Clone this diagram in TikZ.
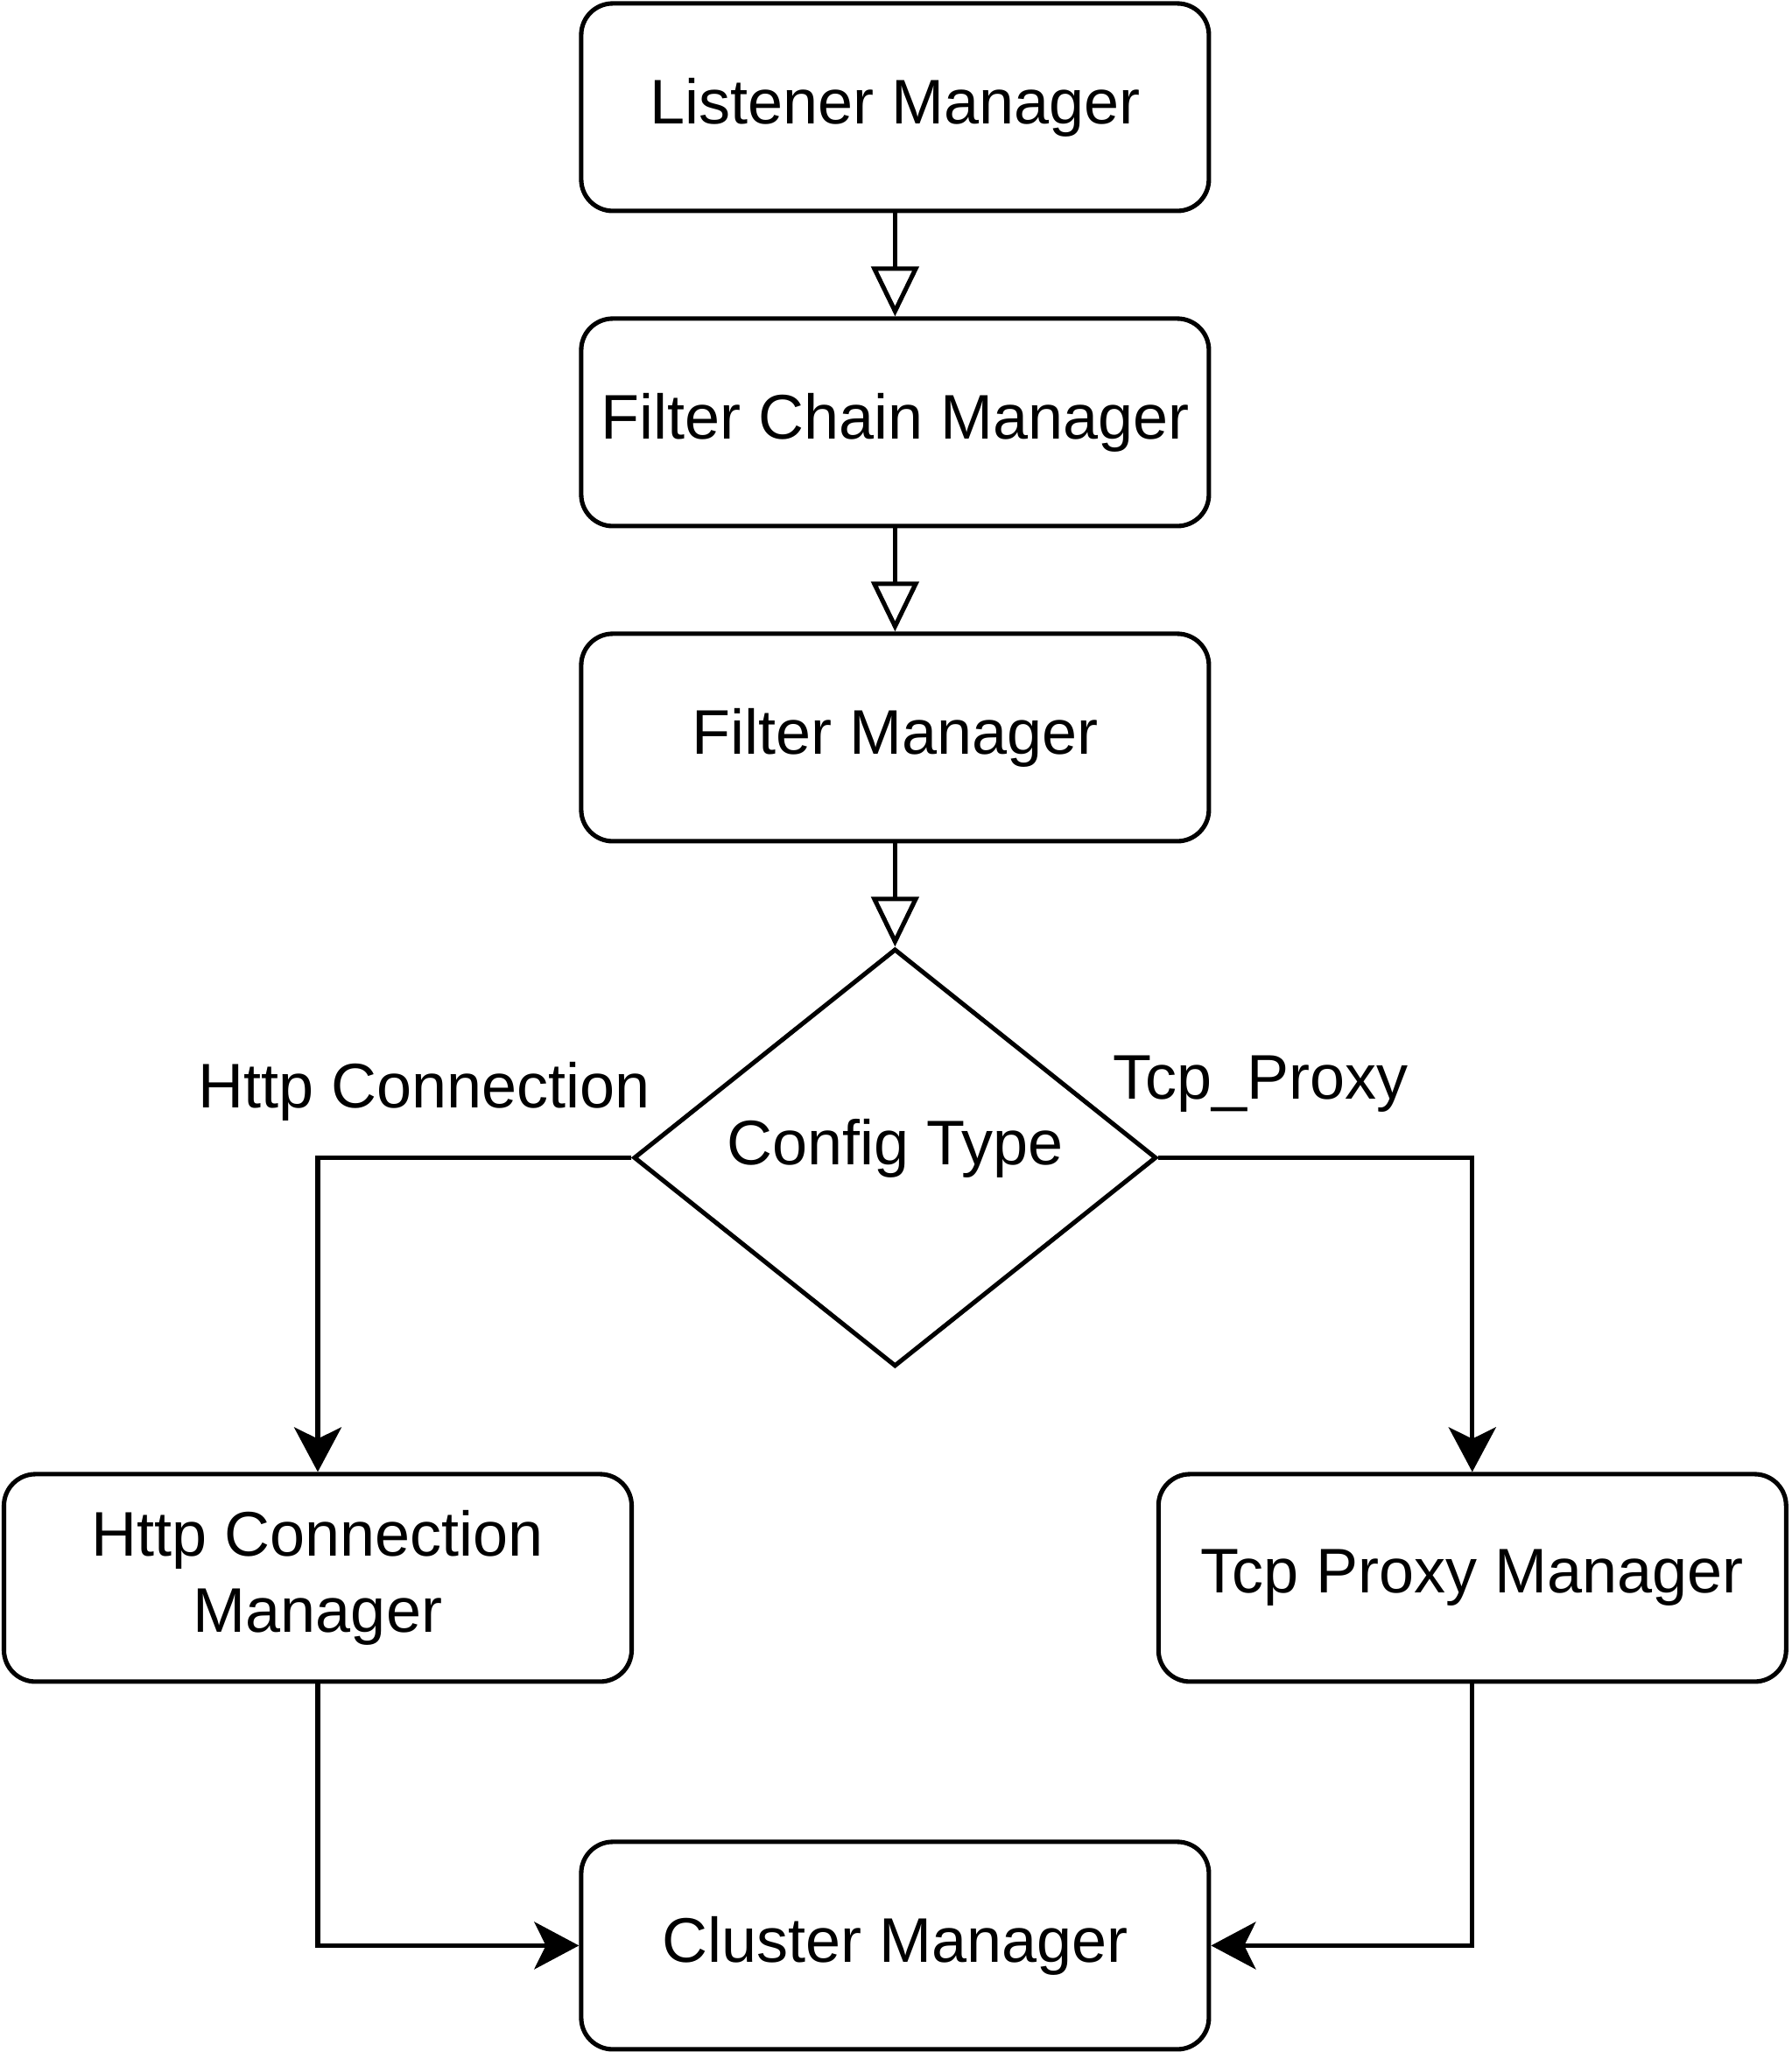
\documentclass[tikz,border=0pt]{standalone}
\usepackage{fontspec}
\setmainfont{Liberation Sans}
\usetikzlibrary{arrows.meta, shapes.geometric, positioning}

\tikzset{
    mgr/.style = {draw, rounded corners = 6pt, minimum width = 119.5pt, minimum height = 39.5pt,
                  align = center, inner sep = 0pt, line width = 0.85pt, font = \fontsize{12}{14.5}\selectfont},
    choice/.style = {draw, diamond, minimum width = 99.5pt, minimum height = 79.5pt, inner sep = 0pt,
                  text depth = 6pt, line width = 0.85pt, font = \fontsize{12}{14.5}\selectfont},
    lbl/.style = {font = \fontsize{12}{14.5}\selectfont, inner sep = 0pt},
    flow/.style = {line width = 0.85pt, -{Triangle[open, length = 9.5pt, width = 9pt, line width = 0.85pt]}},
    pick/.style = {line width = 0.85pt, -{Stealth[length = 8.5pt, width = 9pt, inset = 2.2pt]}}
}

\begin{document}
\begin{tikzpicture}[x = 1pt, y = -1pt]
    \useasboundingbox (0, 0) rectangle (341, 392);

    \node[mgr] (listener) at (170.4, 20.4) {Listener Manager};
    \node[mgr] (chain) at (170.4, 80.4) {Filter Chain Manager};
    \node[mgr] (filter) at (170.4, 140.4) {Filter Manager};
    \node[choice] (config) at (170.4, 220.4) {Config Type};
    \node[mgr] (http) at (60.5, 300.4) {Http Connection\\Manager};
    \node[mgr] (tcp) at (280.3, 300.4) {Tcp Proxy Manager};
    \node[mgr] (cluster) at (170.4, 370.4) {Cluster Manager};

    \node[lbl] (httplbl) at (80.8, 207.8) {Http Connection};
    \node[lbl] (tcplbl) at (240, 206.3) {Tcp\_Proxy};

    \draw[flow] (listener) -- (chain);
    \draw[flow] (chain) -- (filter);
    \draw[flow] (filter) -- (config);

    \draw[pick] (config.west) -| (http.north);
    \draw[pick] (config.east) -| (tcp.north);
    \draw[pick] (http.south) |- (cluster.west);
    \draw[pick] (tcp.south) |- (cluster.east);
\end{tikzpicture}
\end{document}
